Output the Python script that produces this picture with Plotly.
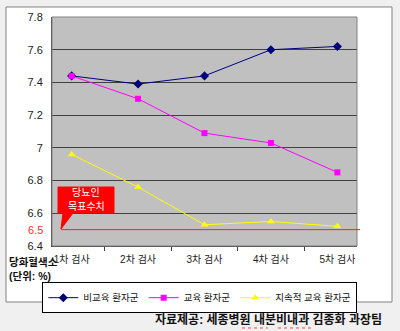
import plotly.graph_objects as go

# HbA1c by test round for three patient groups
tests = ["1차 검사", "2차 검사", "3차 검사", "4차 검사", "5차 검사"]
no_edu = [7.44, 7.39, 7.44, 7.60, 7.62]
edu = [7.44, 7.30, 7.09, 7.03, 6.85]
cont_edu = [6.96, 6.76, 6.53, 6.55, 6.52]
target = 6.5

y_ticks = [6.4, 6.6, 6.8, 7.0, 7.2, 7.4, 7.6, 7.8]
y_ticktext = ["6.4", "6.6", "6.8", "7", "7.2", "7.4", "7.6", "7.8"]

KR = "Liberation Sans, Noto Sans CJK KR"

fig = go.Figure()
series = [
    ("비교육 환자군", no_edu, "#000080", "diamond", 7),
    ("교육 환자군", edu, "#ff00ff", "square", 6),
    ("지속적 교육 환자군", cont_edu, "#ffff00", "triangle-up", 7),
]
for name, vals, col, sym, sz in series:
    fig.add_trace(go.Scatter(
        x=tests, y=vals, name=name, mode="lines+markers",
        line=dict(color=col, width=1),
        marker=dict(symbol=sym, size=sz, color=col, line=dict(width=0)),
    ))

shapes = [
    # white chart frame
    dict(type="rect", xref="paper", yref="paper", x0=-0.1508, x1=1.1148,
         y0=-0.2445, y1=1.0437, fillcolor="white",
         line=dict(color="#808080", width=1), layer="below"),
    # plot area background
    dict(type="rect", xref="paper", yref="paper", x0=0, x1=1, y0=0, y1=1,
         fillcolor="#c0c0c0", line=dict(width=0), layer="below"),
    # plot area border
    dict(type="rect", xref="paper", yref="paper", x0=0, x1=1, y0=0, y1=1,
         line=dict(color="#808080", width=1), fillcolor="rgba(0,0,0,0)"),
    # target level line
    dict(type="line", xref="paper", yref="y", x0=0.0295, x1=1.0098,
         y0=target, y1=target, line=dict(color="#ff2020", width=1)),
    # callout bubble
    dict(type="path", xref="paper", yref="paper",
         path="M 0.0197 0.2576 L 0.2033 0.2576 L 0.2033 0.1441 "
              "L 0.0688 0.1441 L 0.0295 0.0742 L 0.0361 0.1441 "
              "L 0.0197 0.1441 Z",
         fillcolor="#ff0000", line=dict(color="#ff0000", width=1)),
    # spell-check style underlines in caption
    dict(type="line", xref="paper", yref="paper", x0=0.623, x1=0.708,
         y0=-0.358, y1=-0.358, line=dict(color="#ff4040", width=1, dash="dot")),
    dict(type="line", xref="paper", yref="paper", x0=0.741, x1=0.852,
         y0=-0.358, y1=-0.358, line=dict(color="#ff4040", width=1, dash="dot")),
]


def note(text, x, y, size, color="#111", xanchor="center", yref="paper",
         family=KR):
    return dict(text=text, xref="paper", yref=yref, x=x, y=y,
                xanchor=xanchor, yanchor="middle", showarrow=False,
                font=dict(family=family, size=size, color=color))


annotations = [
    note("당뇨인", 0.1115, 0.232, 10, "white"),
    note("목표수치", 0.1115, 0.172, 10, "white"),
    note("6.5", -0.022, target, 11, "#ff3030", xanchor="right", yref="y",
         family="Liberation Sans"),
    note("<b>당화혈색소</b>", -0.148, -0.068, 10.5, xanchor="left"),
    note("<b>(단위: %)</b>", -0.148, -0.133, 10.5, xanchor="left"),
    note("<b>자료제공: 세종병원 내분비내과 김종화 과장팀</b>", 0.7098, -0.32, 12),
]

fig.update_layout(
    width=400, height=331,
    margin=dict(l=52, r=43, t=17, b=85),
    paper_bgcolor="#f0f0f0",
    plot_bgcolor="rgba(0,0,0,0)",
    shapes=shapes,
    annotations=annotations,
    showlegend=True,
    legend=dict(
        orientation="h", x=1.001, xanchor="right", y=-0.158, yanchor="top",
        bgcolor="white", bordercolor="#000", borderwidth=1,
        font=dict(family=KR, size=9.5, color="#111"),
        itemwidth=30, tracegroupgap=0,
    ),
    xaxis=dict(
        type="category", tickson="boundaries", ticks="outside", ticklen=4,
        tickcolor="#404040", showline=True, linecolor="#404040", linewidth=1,
        showgrid=False, tickfont=dict(family=KR, size=10, color="#222"),
        ticklabelstandoff=4, fixedrange=True,
    ),
    yaxis=dict(
        range=[6.4, 7.8], tickvals=y_ticks, ticktext=y_ticktext,
        showgrid=True, gridcolor="#404040", gridwidth=1,
        showline=True, linecolor="#404040", linewidth=1, zeroline=False,
        ticks="", ticklabelstandoff=6,
        tickfont=dict(family="Liberation Sans", size=11, color="#222"),
        fixedrange=True,
    ),
)

fig.write_html("out.html")
